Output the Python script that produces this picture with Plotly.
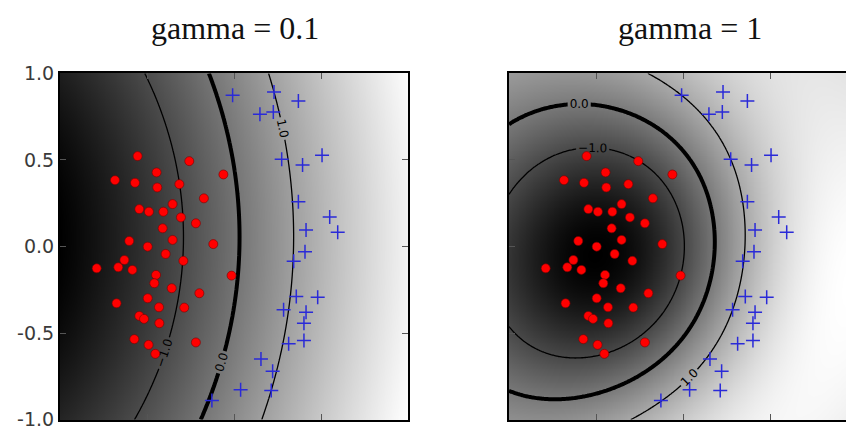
import numpy as np
import plotly.graph_objects as go

# Two classes of training points
red_x = [-0.554,-0.257,-0.445,-0.684,-0.569,-0.314,-0.061,-0.441,-0.173,-0.353,-0.544,-0.489,-0.406,-0.305,-0.219,-0.410,-0.602,-0.353,-0.496,-0.119,-0.393,-0.630,-0.291,-0.789,-0.665,-0.584,-0.448,-0.458,-0.014,-0.358,-0.199,-0.675,-0.496,-0.431,-0.286,-0.544,-0.517,-0.429,-0.573,-0.491,-0.219,-0.452]
red_y = [0.522,0.493,0.428,0.383,0.368,0.360,0.416,0.341,0.278,0.245,0.216,0.201,0.201,0.168,0.134,0.105,0.032,0.038,-0.001,0.014,-0.043,-0.078,-0.083,-0.126,-0.120,-0.135,-0.164,-0.212,-0.168,-0.241,-0.270,-0.328,-0.299,-0.351,-0.353,-0.401,-0.418,-0.443,-0.535,-0.568,-0.554,-0.620]
blue_x = [-0.008,0.230,0.370,0.149,0.226,0.274,0.506,0.394,0.370,0.550,0.414,0.596,0.408,0.343,0.358,0.481,0.285,0.414,0.402,0.402,0.314,0.155,0.222,0.038,0.214,-0.127]
blue_y = [0.873,0.892,0.841,0.764,0.777,0.504,0.527,0.470,0.258,0.170,0.095,0.082,-0.030,-0.085,-0.289,-0.293,-0.366,-0.379,-0.443,-0.543,-0.562,-0.650,-0.721,-0.827,-0.831,-0.890]

# RBF kernel width per panel and the SVM penalty
gammas = [0.1, 1.0]
penalties = [5.0, 5.0]
titles = ["gamma = 0.1", "gamma = 1"]
contour_levels_thin = [-1.0, 1.0]
contour_level_thick = 0.0
tick_vals = [-1.0, -0.5, 0.0, 0.5, 1.0]
tick_text = ["-1.0", "-0.5", "0.0", "0.5", "1.0"]

X = np.column_stack([red_x + blue_x, red_y + blue_y])
y = np.array([-1.0] * len(red_x) + [1.0] * len(blue_x))


def rbf(A, B, gamma):
    d2 = ((A[:, None, :] - B[None, :, :]) ** 2).sum(-1)
    return np.exp(-gamma * d2)


def smo(K, y, C, tol=1e-5, max_iter=200000):
    """Soft-margin SVM dual solved with maximal-violating-pair SMO."""
    n = len(y)
    Q = K * np.outer(y, y)
    a = np.zeros(n)
    G = -np.ones(n)
    for _ in range(max_iter):
        yG = -y * G
        up = ((y > 0) & (a < C)) | ((y < 0) & (a > 0))
        low = ((y > 0) & (a > 0)) | ((y < 0) & (a < C))
        iu, il = np.where(up)[0], np.where(low)[0]
        i = iu[np.argmax(yG[iu])]
        j = il[np.argmin(yG[il])]
        if yG[i] - yG[j] < tol:
            break
        ai, aj = a[i], a[j]
        if y[i] != y[j]:
            quad = max(Q[i, i] + Q[j, j] + 2 * Q[i, j], 1e-12)
            delta = (-G[i] - G[j]) / quad
            diff = a[i] - a[j]
            a[i] += delta
            a[j] += delta
            if diff > 0:
                if a[j] < 0:
                    a[j] = 0; a[i] = diff
                if a[i] > C:
                    a[i] = C; a[j] = C - diff
            else:
                if a[i] < 0:
                    a[i] = 0; a[j] = -diff
                if a[j] > C:
                    a[j] = C; a[i] = C + diff
        else:
            quad = max(Q[i, i] + Q[j, j] - 2 * Q[i, j], 1e-12)
            delta = (G[i] - G[j]) / quad
            s = a[i] + a[j]
            a[i] -= delta
            a[j] += delta
            if s > C:
                if a[i] > C:
                    a[i] = C; a[j] = s - C
                if a[j] > C:
                    a[j] = C; a[i] = s - C
            else:
                if a[j] < 0:
                    a[j] = 0; a[i] = s
                if a[i] < 0:
                    a[i] = 0; a[j] = s
        G += Q[:, i] * (a[i] - ai) + Q[:, j] * (a[j] - aj)
    free = (a > 1e-9) & (a < C - 1e-9)
    if free.any():
        rho = np.mean(y[free] * G[free])
    else:
        yG = -y * G
        up = ((y > 0) & (a < C)) | ((y < 0) & (a > 0))
        low = ((y > 0) & (a > 0)) | ((y < 0) & (a < C))
        rho = -(yG[up].max() + yG[low].min()) / 2
    return a, rho


grid = np.linspace(-1, 1, 201)
GX, GY = np.meshgrid(grid, grid)
P = np.column_stack([GX.ravel(), GY.ravel()])

W, H = 846, 430
# panel boxes in pixels: left, right, top, bottom
panels = [(60, 408, 73, 420), (509, 846, 73, 420)]
x_ranges = [[-1, 1], [-1, -1 + (846 - 509) / 174.0]]

fig = go.Figure()
for k, (gm, C) in enumerate(zip(gammas, penalties)):
    a, rho = smo(rbf(X, X, gm), y, C)
    Z = (rbf(P, X, gm) @ (a * y) - rho).reshape(GX.shape)
    xa = "x" if k == 0 else "x2"
    ya = "y" if k == 0 else "y2"
    fig.add_trace(go.Heatmap(x=grid, y=grid, z=Z, colorscale=[[0, "black"], [1, "white"]],
                             showscale=False, zsmooth="best", hoverinfo="skip", xaxis=xa, yaxis=ya))
    fig.add_trace(go.Contour(x=grid, y=grid, z=Z, showscale=False, hoverinfo="skip",
                             contours=dict(start=contour_levels_thin[0], end=contour_levels_thin[1],
                                           size=contour_levels_thin[1] - contour_levels_thin[0],
                                           coloring="none", showlabels=True,
                                           labelfont=dict(family="DejaVu Sans", size=12, color="black"),
                                           labelformat=".1f"),
                             line=dict(color="black", width=1.3), xaxis=xa, yaxis=ya))
    fig.add_trace(go.Contour(x=grid, y=grid, z=Z, showscale=False, hoverinfo="skip",
                             contours=dict(start=contour_level_thick, end=contour_level_thick, size=1,
                                           coloring="none", showlabels=True,
                                           labelfont=dict(family="DejaVu Sans", size=12, color="black"),
                                           labelformat=".1f"),
                             line=dict(color="black", width=4), xaxis=xa, yaxis=ya))
    fig.add_trace(go.Scatter(x=red_x, y=red_y, mode="markers", hoverinfo="skip", xaxis=xa, yaxis=ya,
                             marker=dict(color="#ff0000", size=9, line=dict(color="#7a0000", width=0.6))))
    fig.add_trace(go.Scatter(x=blue_x, y=blue_y, mode="markers", hoverinfo="skip", xaxis=xa, yaxis=ya,
                             marker=dict(symbol="cross-thin", size=10,
                                         line=dict(color="#2a2ad8", width=1.5))))

axis_common = dict(showgrid=False, zeroline=False, ticks="inside", ticklen=6, tickwidth=1,
                   tickcolor="#555555", showline=True, linecolor="black", linewidth=2,
                   automargin=False)
layout = dict(width=W, height=H, margin=dict(l=0, r=0, t=0, b=0), template="none",
              paper_bgcolor="white", plot_bgcolor="white", showlegend=False)
for k, (l, r, t, b) in enumerate(panels):
    sx = "" if k == 0 else "2"
    layout["xaxis" + sx] = dict(axis_common, domain=[l / W, r / W], range=x_ranges[k],
                                tickvals=[-0.5, 0.0, 0.5], showticklabels=False, mirror="allticks",
                                anchor="y" + sx)
    layout["yaxis" + sx] = dict(axis_common, domain=[1 - b / H, 1 - t / H], range=[-1.002, 1.002],
                                tickvals=tick_vals, ticktext=tick_text, showticklabels=(k == 0),
                                ticklabeloverflow="allow",
                                mirror="allticks" if k == 0 else False, anchor="x" + sx,
                                tickfont=dict(family="DejaVu Sans", size=19, color="#3a3a3a"))
fig.update_layout(**layout)

title_x = [235, 690]
for k, txt in enumerate(titles):
    fig.add_annotation(text=txt, x=title_x[k] / W, y=1 - 28 / H, xref="paper", yref="paper",
                       xanchor="center", yanchor="middle", showarrow=False,
                       font=dict(family="Liberation Serif", size=32, color="#111111"))

fig.write_html("out.html")
